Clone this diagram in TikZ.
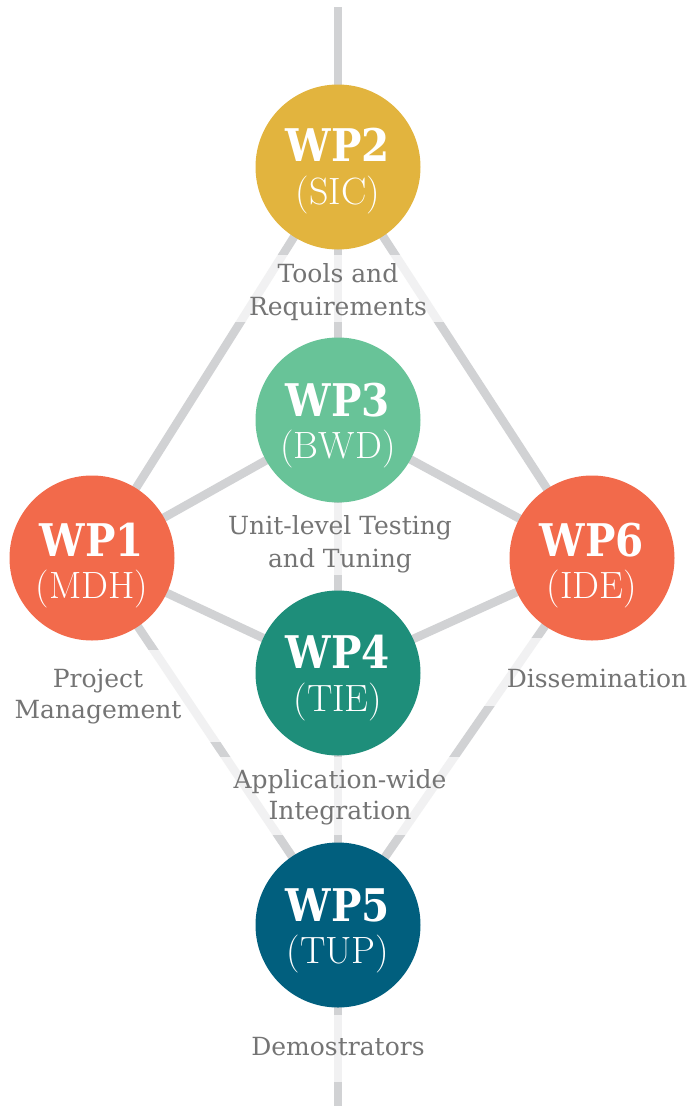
\documentclass[tikz,border=0pt]{standalone}
\usepackage{fontspec}
\newfontfamily\slab{DejaVu Serif}
\newfontfamily\slabwp[FakeStretch=0.9]{DejaVu Serif}
\definecolor{linegray}{HTML}{D1D2D4}
\definecolor{labelgray}{HTML}{747474}
\definecolor{cgold}{HTML}{E2B43E}
\definecolor{cmint}{HTML}{68C398}
\definecolor{ccoral}{HTML}{F26A4B}
\definecolor{cteal}{HTML}{1E8E7A}
\definecolor{cblue}{HTML}{015F7E}
\begin{document}
\begin{tikzpicture}[x=1pt,y=-1pt,
  conn/.style={line width=8.5pt, draw=linegray},
  band/.style={fill=white, fill opacity=0.7},
  wpcircle/.style={circle, minimum size=165pt, inner sep=0pt},
  wptitle/.style={font=\slabwp\bfseries\fontsize{45}{45}\selectfont, text=white, anchor=base, inner sep=0pt},
  wpsub/.style={font=\fontsize{38}{38}\selectfont, text=white, anchor=base, inner sep=0pt},
  lbl/.style={font=\slab\fontsize{25}{33}\selectfont, text=labelgray, anchor=base, inner sep=0pt}]
\useasboundingbox (0,0) rectangle (692,1106);
% centres
\coordinate (top) at (338,7);
\coordinate (bot) at (338,1106);
\coordinate (c2) at (338,167);
\coordinate (c3) at (338,420);
\coordinate (c1) at (92,558);
\coordinate (c6) at (592,558);
\coordinate (c4) at (338,673);
\coordinate (c5) at (338,925);
% connectors
\draw[conn] (top) -- (c2) -- (c3) -- (c4) -- (c5) -- (bot);
\draw[conn] (c2) -- (c1);
\draw[conn] (c2) -- (c6);
\draw[conn] (c3) -- (c1);
\draw[conn] (c3) -- (c6);
\draw[conn] (c4) -- (c1);
\draw[conn] (c4) -- (c6);
\draw[conn] (c5) -- (c1);
\draw[conn] (c5) -- (c6);
% label bands
\fill[band] (225,255) rectangle (451,322);
\fill[band] (225,503) rectangle (451,575);
\fill[band] (0,650) rectangle (235,742);
\fill[band] (480,638) rectangle (692,706);
\fill[band] (190,757) rectangle (490,835);
\fill[band] (240,1015) rectangle (440,1082);
% circles
\node[wpcircle, fill=cgold] (wp2) at (c2) {};
\node[wpcircle, fill=cmint] (wp3) at (c3) {};
\node[wpcircle, fill=ccoral] (wp1) at (c1) {};
\node[wpcircle, fill=ccoral] (wp6) at (c6) {};
\node[wpcircle, fill=cteal] (wp4) at (c4) {};
\node[wpcircle, fill=cblue] (wp5) at (c5) {};
% titles
\node[wptitle] (t2) at (338,161) {WP2};
\node[wpsub] (s2) at (338,204) {(SIC)};
\node[wptitle] (t3) at (338,416) {WP3};
\node[wpsub] (s3) at (338,458) {(BWD)};
\node[wptitle] (t1) at (92,556) {WP1};
\node[wpsub] (s1) at (92,598) {(MDH)};
\node[wptitle] (t6) at (592,556) {WP6};
\node[wpsub] (s6) at (592,598) {(IDE)};
\node[wptitle] (t4) at (338,668) {WP4};
\node[wpsub] (s4) at (338,711) {(TIE)};
\node[wptitle] (t5) at (338,921) {WP5};
\node[wpsub] (s5) at (338,963) {(TUP)};
% labels
\node[lbl] (l2a) at (338,282) {Tools and};
\node[lbl] (l2b) at (338,315) {Requirements};
\node[lbl] (l3a) at (340,534) {Unit-level Testing};
\node[lbl] (l3b) at (340,567) {and Tuning};
\node[lbl] (l1a) at (98,687) {Project};
\node[lbl] (l1b) at (98,718) {Management};
\node[lbl] (l6) at (597,687) {Dissemination};
\node[lbl] (l4a) at (340,788) {Application-wide};
\node[lbl] (l4b) at (340,819) {Integration};
\node[lbl] (l5) at (338,1055) {Demostrators};
\end{tikzpicture}
\end{document}
